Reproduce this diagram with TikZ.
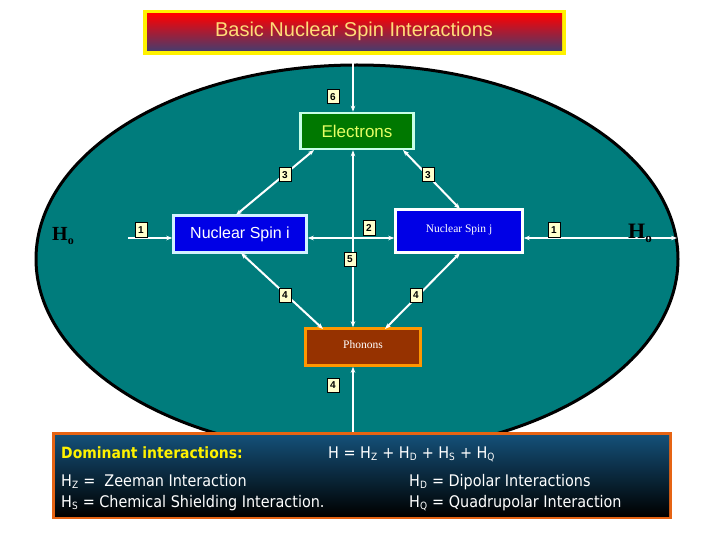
\documentclass[tikz,border=0pt]{standalone}
\usepackage{fontspec}
\setmainfont{Liberation Sans}
\newfontfamily\comic{DejaVu Sans Condensed}
\newfontfamily\serifb{Liberation Serif}
\usetikzlibrary{arrows.meta}
\definecolor{teal1}{RGB}{0,124,124}
\definecolor{cream}{RGB}{255,255,204}
\definecolor{titlebot}{RGB}{70,60,110}
\definecolor{titletxt}{RGB}{255,220,120}
\definecolor{elborder}{RGB}{200,255,230}
\definecolor{elfill}{RGB}{0,120,0}
\definecolor{eltxt}{RGB}{230,255,100}
\definecolor{siborder}{RGB}{210,240,255}
\definecolor{bluefill}{RGB}{0,0,230}
\definecolor{phborder}{RGB}{255,150,0}
\definecolor{phfill}{RGB}{150,50,0}
\definecolor{botborder}{RGB}{230,100,20}
\definecolor{bottop}{RGB}{20,80,120}
\newcommand{\sbs}[1]{\textsubscript{\fontsize{10}{10}\selectfont #1}}
\begin{document}
\begin{tikzpicture}[x=1pt,y=-1pt,
 lab/.style={draw=black,line width=1pt,fill=cream,minimum width=12pt,minimum height=14pt,inner sep=0pt,font=\fontsize{10}{10}\selectfont\bfseries},
 arr/.style={white,line width=2pt,{Stealth[length=6pt]}-{Stealth[length=6pt]}},
 arr1/.style={white,line width=2pt,-{Stealth[length=6pt]}},
 box/.style={line width=2.5pt,inner sep=0pt}]
\useasboundingbox (0,0) rectangle (720,540);
\fill[white] (0,0) rectangle (720,540);
\draw[line width=3pt,fill=teal1] (357,259) ellipse [x radius=321,y radius=194];
% title
\fill[yellow] (143,10) rectangle (566,55);
\shade[top color=red,bottom color=titlebot] (147,14) rectangle (562,51);
\node[font=\fontsize{20}{20}\selectfont,text=titletxt] (title) at (354,31) {Basic Nuclear Spin Interactions};
% boxes
\node[box,draw=elborder,fill=elfill,minimum width=113pt,minimum height=36pt,text=eltxt,font=\fontsize{17}{17}\selectfont] (el) at (357,131) {Electrons};
\node[box,draw=siborder,fill=bluefill,minimum width=133pt,minimum height=37pt,text=white,font=\fontsize{16}{16}\selectfont] (si) at (240,234) {Nuclear Spin i};
\node[box,draw=white,fill=bluefill,minimum width=127pt,minimum height=43pt,text=white,font=\serifb\fontsize{11.5}{12}\selectfont] (sj) at (459,231) {\raisebox{4pt}{Nuclear Spin j}};
\node[box,draw=phborder,fill=phfill,minimum width=115pt,minimum height=37pt,text=white,font=\serifb\fontsize{11.5}{12}\selectfont] (ph) at (363,347) {\raisebox{4pt}{Phonons}};
\coordinate (top) at (353,55);
\coordinate (bot) at (353,452);
\coordinate (lft) at (128,238);
\coordinate (rgt) at (677,238);
% connectors
\draw[arr] (top) -- (top|-el.north);
\draw[arr] (top|-el.south) -- (top|-ph.north);
\draw[arr1] (bot) -- (bot|-ph.south);
\draw[arr1] (lft) -- (si.west|-lft);
\draw[arr] (sj.east|-rgt) -- (rgt);
\draw[arr] (si.east|-lft) -- (sj.west|-lft);
\draw[arr] (236,215) -- (314,150);
\draw[arr] (403,150) -- (460,209);
\draw[arr] (241,253) -- (323,329);
\draw[arr] (460,253) -- (385,329);
% labels
\node[lab] (l6) at (333,97) {6};
\node[lab] (l3a) at (285,175) {3};
\node[lab] (l3b) at (428,175) {3};
\node[lab] (l1a) at (141,230) {1};
\node[lab] (l1b) at (554,230) {1};
\node[lab] (l2) at (369,228) {2};
\node[lab] (l5) at (350,259) {5};
\node[lab] (l4a) at (285,295) {4};
\node[lab] (l4b) at (416,295) {4};
\node[lab] (l4c) at (333,385) {4};
\node[font=\serifb\bfseries\fontsize{20}{20}\selectfont] (hl) at (63,236) {H\raisebox{-4pt}{\fontsize{12}{12}\selectfont o}};
\node[font=\serifb\bfseries\fontsize{22}{22}\selectfont] (hr) at (640,233) {H\raisebox{-4pt}{\fontsize{13}{13}\selectfont o}};
% bottom box
\fill[botborder] (52,432) rectangle (672,519);
\shade[top color=bottop,bottom color=black] (55,435) rectangle (669,516);
\begin{scope}[every node/.style={anchor=base west,inner sep=0pt,text=white,font=\comic\fontsize{16}{16}\selectfont}]
\node[text=yellow,font=\comic\bfseries\fontsize{15.5}{16}\selectfont] (t1) at (61,458) {Dominant interactions:};
\node (t2) at (328,458) {H = H\sbs{Z} + H\sbs{D} + H\sbs{S} + H\sbs{Q}};
\node (t3) at (61,486) {H\sbs{Z} = \ Zeeman Interaction};
\node (t4) at (409,486) {H\sbs{D} = Dipolar Interactions};
\node (t5) at (61,507) {H\sbs{S} = Chemical Shielding Interaction.};
\node (t6) at (409,507) {H\sbs{Q} = Quadrupolar Interaction};
\end{scope}
\end{tikzpicture}
\end{document}
